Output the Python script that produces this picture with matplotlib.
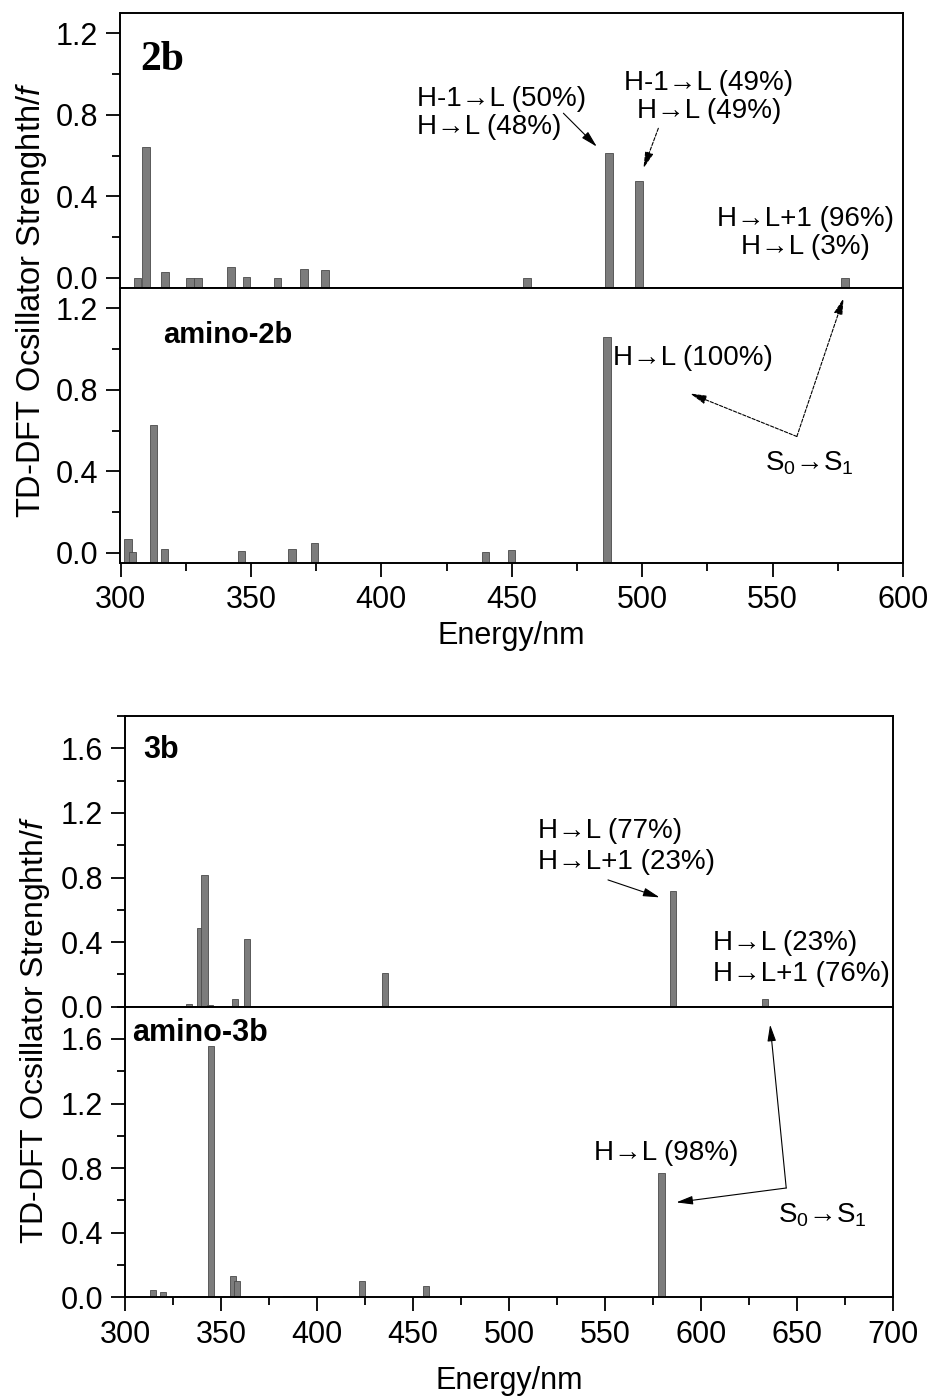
import numpy as np
import matplotlib
matplotlib.use("Agg")
import matplotlib.pyplot as plt
from matplotlib.ticker import MultipleLocator

plt.rcParams['font.family'] = ['Liberation Sans', 'DejaVu Sans']
plt.rcParams['mathtext.fontset'] = 'custom'
plt.rcParams['mathtext.rm'] = 'Liberation Sans'
plt.rcParams['mathtext.it'] = 'Liberation Sans:italic'

# ---- data (wavelength nm, oscillator strength f) ----
wl_2b = [306.5, 309.7, 317.0, 326.5, 329.8, 342.3, 348.3, 360.2, 370.3, 378.3, 455.9, 487.3, 498.8, 577.8]
f_2b = [0.0, 0.644, 0.027, 0.0, 0.0, 0.054, 0.006, 0.0, 0.041, 0.038, 0.0, 0.611, 0.477, 0.0]

wl_a2b = [302.9, 304.7, 312.7, 316.9, 346.4, 365.8, 374.4, 440.0, 450.0, 486.5]
f_a2b = [0.070, 0.006, 0.625, 0.018, 0.010, 0.018, 0.046, 0.004, 0.016, 1.061]

wl_3b = [325.9, 333.3, 339.1, 341.3, 344.1, 357.3, 360.5, 363.4, 384.9, 435.3, 514.3, 585.4, 633.5]
f_3b = [0.003, 0.015, 0.485, 0.813, 0.010, 0.048, 0.005, 0.419, 0.004, 0.210, 0.004, 0.718, 0.050]

wl_a3b = [314.6, 319.8, 327.3, 331.6, 344.5, 356.1, 358.3, 383.9, 423.3, 456.6, 474.0, 478.0, 579.5]
f_a3b = [0.046, 0.031, 0.010, 0.005, 1.554, 0.134, 0.103, 0.010, 0.101, 0.070, 0.003, 0.003, 0.770]

BAR_FC = '#7c7c7c'
BAR_EC = '#4a4a4a'

W, H = 931, 1398
fig = plt.figure(figsize=(W / 100, H / 100), dpi=100)


def add_ax(x0, x1, y0, y1):
    # pixel box (top-left origin) -> figure fraction
    return fig.add_axes([x0 / W, 1 - y1 / H, (x1 - x0) / W, (y1 - y0) / H])


def style(ax, xlim, ylim, ymajor, fs, xlabels):
    ax.set_xlim(*xlim)
    ax.set_ylim(*ylim)
    ax.xaxis.set_major_locator(MultipleLocator(50))
    ax.xaxis.set_minor_locator(MultipleLocator(25))
    ax.yaxis.set_major_locator(MultipleLocator(ymajor))
    ax.yaxis.set_minor_locator(MultipleLocator(ymajor / 2))
    ax.tick_params(which='major', direction='out', length=10, width=1.3, labelsize=fs, pad=6)
    ax.tick_params(which='minor', direction='out', length=6, width=1.3)
    ax.tick_params(axis='x', which='both', bottom=xlabels, labelbottom=xlabels)
    for s in ax.spines.values():
        s.set_linewidth(1.4)
    ax.yaxis.set_major_formatter(matplotlib.ticker.FormatStrFormatter('%.1f'))


def bars(ax, x, f, width, base):
    f = np.asarray(f)
    ax.bar(x, f - base, bottom=base, width=width, color=BAR_FC, edgecolor=BAR_EC, linewidth=0.6)


def arrow(ax, tail, head, ls='-'):
    ax.annotate('', xy=head, xytext=tail, xycoords='data', textcoords='data',
                arrowprops=dict(arrowstyle='-|>,head_length=1.0,head_width=0.26',
                                color='black', lw=0.8, linestyle=ls, shrinkA=0, shrinkB=0),
                annotation_clip=False)


# ================= top chart: 2b / amino-2b =================
ylim_top = (-0.05, 1.30)
ax1 = add_ax(120.5, 903, 13, 288)
ax2 = add_ax(120.5, 903, 288, 563)
bars(ax1, wl_2b, f_2b, 3.0, ylim_top[0])
bars(ax2, wl_a2b, f_a2b, 2.8, ylim_top[0])
style(ax1, (300, 600), ylim_top, 0.4, 22, False)
style(ax2, (300, 600), ylim_top, 0.4, 22, True)
ax2.set_xlabel('Energy/nm', fontsize=22, labelpad=4)

ax1.text(0.025, 0.90, '2b', transform=ax1.transAxes, family='Liberation Serif',
         fontweight='bold', fontsize=30, va='top', ha='left')
ax1.text(0.3785, 0.735, 'H-1\u2192L (50%)\nH\u2192L (48%)', transform=ax1.transAxes,
         fontsize=20, va='top', ha='left', linespacing=1.1)
ax1.text(0.752, 0.793, 'H-1\u2192L (49%)\nH\u2192L (49%)', transform=ax1.transAxes,
         fontsize=20, va='top', ha='center', multialignment='center', linespacing=1.1)
ax1.text(0.875, 0.30, 'H\u2192L+1 (96%)\nH\u2192L (3%)', transform=ax1.transAxes,
         fontsize=20, va='top', ha='center', multialignment='center', linespacing=1.1)
arrow(ax1, (469.8, 0.808), (482.6, 0.644))
arrow(ax1, (506.2, 0.734), (500.5, 0.538), ls=(0, (3, 1.5)))

ax2.text(0.055, 0.88, 'amino-2b', transform=ax2.transAxes, fontweight='bold',
         fontsize=21, va='top', ha='left')
ax2.text(0.630, 0.793, 'H\u2192L (100%)', transform=ax2.transAxes, fontsize=20,
         va='top', ha='left')
ax2.text(0.8236, 0.4145, 'S$_0$\u2192S$_1$', transform=ax2.transAxes, fontsize=20,
         va='top', ha='left')
arrow(ax2, (559.3, 0.571), (518.4, 0.782), ls=(0, (3, 1.5)))
arrow(ax2, (559.3, 0.571), (577.2, 1.25), ls=(0, (3, 1.5)))

fig.text(32 / W, 1 - 300 / H, 'TD-DFT Ocsillator Strenghth/$\\mathit{f}$', rotation=90,
         fontsize=23.5, ha='center', va='center')

# ================= bottom chart: 3b / amino-3b =================
ylim_bot = (0.0, 1.80)
ax3 = add_ax(125.3, 892.7, 716, 1006.7)
ax4 = add_ax(125.3, 892.7, 1006.7, 1297.3)
bars(ax3, wl_3b, f_3b, 3.3, ylim_bot[0])
bars(ax4, wl_a3b, f_a3b, 3.3, ylim_bot[0])
style(ax3, (300, 700), ylim_bot, 0.4, 22, False)
style(ax4, (300, 700), ylim_bot, 0.4, 22, True)
ax4.set_xlabel('Energy/nm', fontsize=22, labelpad=12)

ax3.text(0.0235, 0.935, '3b', transform=ax3.transAxes, fontweight='bold',
         fontsize=22, va='top', ha='left')
ax3.text(0.5382, 0.649, 'H\u2192L (77%)\nH\u2192L+1 (23%)', transform=ax3.transAxes,
         fontsize=20, va='top', ha='left', linespacing=1.25)
ax3.text(0.7662, 0.264, 'H\u2192L (23%)\nH\u2192L+1 (76%)', transform=ax3.transAxes,
         fontsize=20, va='top', ha='left', linespacing=1.25)
arrow(ax3, (551.6, 0.785), (578.5, 0.677))

ax4.text(0.0091, 0.961, 'amino-3b', transform=ax4.transAxes, fontweight='bold',
         fontsize=22, va='top', ha='left')
ax4.text(0.6108, 0.5414, 'H\u2192L (98%)', transform=ax4.transAxes, fontsize=20,
         va='top', ha='left')
ax4.text(0.8509, 0.328, 'S$_0$\u2192S$_1$', transform=ax4.transAxes, fontsize=20,
         va='top', ha='left')
arrow(ax4, (644.5, 0.677), (587.2, 0.588))
arrow(ax4, (644.5, 0.677), (636.1, 1.689))

fig.text(35 / W, 1 - 1030 / H, 'TD-DFT Ocsillator Strenghth/$\\mathit{f}$', rotation=90,
         fontsize=23, ha='center', va='center')

fig.savefig('out.png', dpi=100)
